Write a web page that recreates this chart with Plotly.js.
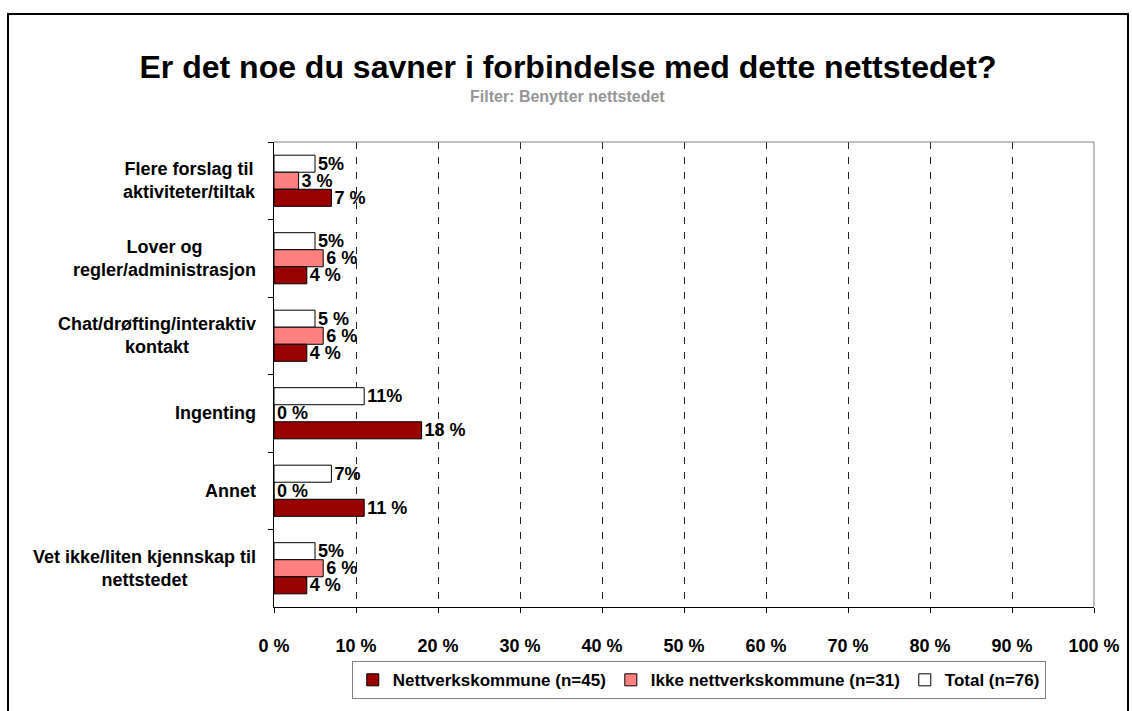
<!DOCTYPE html>
<html>
<head>
<meta charset="utf-8">
<script src="https://cdn.plot.ly/plotly-3.0.1.min.js"></script>
<style>
  html, body { margin: 0; padding: 0; background: #ffffff; }
  #chart { position: absolute; left: 0; top: 0; width: 1132px; height: 711px; }
  #frame { position: absolute; left: 7px; top: 13px; width: 1118px; height: 740px;
           border: 2px solid #000; pointer-events: none; }
</style>
</head>
<body>
<div id="chart"></div>
<div id="frame"></div>
<script>
// ---- data ----
const categories = [
  "Flere forslag til<br>aktiviteter/tiltak",
  "Lover og<br>regler/administrasjon",
  "Chat/drøfting/interaktiv<br>kontakt",
  "Ingenting",
  "Annet",
  "Vet ikke/liten kjennskap til<br>nettstedet"
];
const seriesNames = ["Nettverkskommune (n=45)", "Ikke nettverkskommune (n=31)", "Total (n=76)"];
const nettverk = [7, 4, 4, 18, 11, 4];
const nettverkLabels = ["7 %", "4 %", "4 %", "18 %", "11 %", "4 %"];
const ikke = [3, 6, 6, 0, 0, 6];
const ikkeLabels = ["3 %", "6 %", "6 %", "0 %", "0 %", "6 %"];
const total = [5, 5, 5, 11, 7, 5];
const totalLabels = ["5%", "5%", "5 %", "11%", "7%", "5%"];
const xTicks = [0, 10, 20, 30, 40, 50, 60, 70, 80, 90, 100];
const xTickLabels = ["0 %", "10 %", "20 %", "30 %", "40 %", "50 %", "60 %", "70 %", "80 %", "90 %", "100 %"];

const FONT = "Liberation Sans, Arial, sans-serif";
const labelFont = {family: FONT, size: 18, color: "#000", weight: "bold"};

function barTrace(name, values, labels, color) {
  return {
    type: "bar", orientation: "h", name: name,
    x: values, y: categories,
    text: labels, textposition: "outside", constraintext: "none", cliponaxis: false,
    textfont: labelFont,
    marker: {color: color, line: {color: "#000", width: 1}},
    hoverinfo: "skip"
  };
}

const data = [
  barTrace(seriesNames[2], total, totalLabels, "#ffffff"),
  barTrace(seriesNames[1], ikke, ikkeLabels, "#ff8080"),
  barTrace(seriesNames[0], nettverk, nettverkLabels, "#990000")
];

const annotations = categories.map(c => ({
  xref: "paper", yref: "y", x: -0.0195, y: c,
  xanchor: "right", yanchor: "middle", align: "center",
  text: c, showarrow: false, font: labelFont
}));
annotations.push({
  xref: "paper", yref: "paper", x: 0.3585, y: 1.097,
  xanchor: "center", yanchor: "middle", showarrow: false,
  text: "Filter: Benytter nettstedet",
  font: {family: FONT, size: 16, color: "#969696", weight: "bold"}
});

const layout = {
  width: 1132, height: 711,
  paper_bgcolor: "#ffffff", plot_bgcolor: "#ffffff",
  margin: {l: 274, r: 38, t: 142, b: 89},
  font: {family: FONT, color: "#000"},
  title: {
    text: "Er det noe du savner i forbindelse med dette nettstedet?",
    font: {family: FONT, size: 32, color: "#000", weight: "bold"},
    x: 0.5018, xanchor: "center", xref: "container",
    y: 0.906, yanchor: "middle", yref: "container"
  },
  barmode: "group", bargap: 0.34, bargroupgap: 0,
  xaxis: {
    range: [0, 100], tickvals: xTicks, ticktext: xTickLabels,
    tickfont: labelFont, ticks: "outside", ticklen: 5, tickcolor: "#000",
    ticklabelstandoff: 17,
    showline: true, linecolor: "#000", linewidth: 1,
    showgrid: true, gridcolor: "#222", gridwidth: 1, griddash: "7px,8px",
    zeroline: false, fixedrange: true
  },
  yaxis: {
    type: "category", autorange: "reversed",
    showticklabels: false, ticks: "outside", ticklen: 5, tickcolor: "#000",
    tickson: "boundaries",
    showline: true, linecolor: "#000", linewidth: 1,
    showgrid: false, zeroline: false, fixedrange: true
  },
  shapes: [
    {type: "line", xref: "paper", yref: "paper", x0: 0, x1: 1, y0: 1, y1: 1,
     line: {color: "#808080", width: 1}, layer: "above"},
    {type: "line", xref: "paper", yref: "paper", x0: 1, x1: 1, y0: 0, y1: 1,
     line: {color: "#808080", width: 1}, layer: "above"}
  ],
  showlegend: true,
  legend: {
    orientation: "h", traceorder: "reversed",
    x: 0.518, xanchor: "center", y: -0.1167, yanchor: "top",
    bgcolor: "#ffffff", bordercolor: "#808080", borderwidth: 1,
    font: {family: FONT, size: 17, color: "#000", weight: "bold"},
    itemwidth: 30
  },
  annotations: annotations
};

Plotly.newPlot("chart", data, layout, {displayModeBar: false, staticPlot: true});
</script>
</body>
</html>
